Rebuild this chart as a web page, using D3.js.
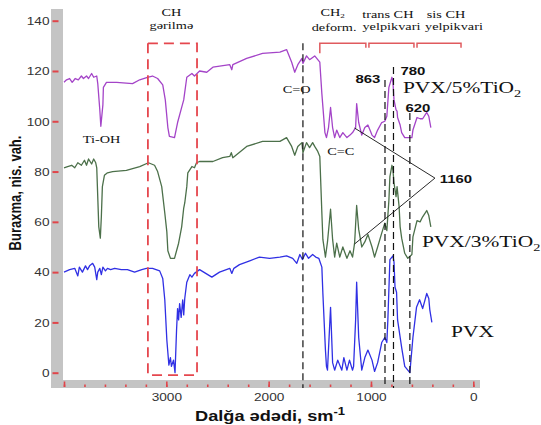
<!DOCTYPE html>
<html>
<head>
<meta charset="utf-8">
<script src="https://cdn.jsdelivr.net/npm/d3@7"></script>
<style>
  html, body { margin: 0; padding: 0; background: #fff; }
  svg { display: block; }
</style>
</head>
<body>
<script>
// ---- axis ticks ----
const yTicks = [0, 20, 40, 60, 80, 100, 120, 140];
const xMajorTicks = [4000, 3000, 2000, 1000, 0];
const xTickLabels = [3000, 2000, 1000, 0];
const xMinorTicks = d3.range(4000, -1, -200);

// ---- spectra: [wavenumber (sm^-1), transmission] ----
const pvx = [[4000,40],[3945,41],[3895,41.5],[3865,38.5],[3850,42],[3820,40],[3790,42.5],[3770,41],[3750,42.5],[3720,43.5],[3700,42],[3680,37],[3670,40],[3650,41.5],[3635,39],[3620,42],[3595,40.5],[3575,41.5],[3545,41],[3505,41.5],[3440,41],[3380,41],[3310,40],[3240,41],[3195,41.5],[3135,41.5],[3065,40.5],[3035,37.5],[3015,29],[2995,13],[2975,3],[2960,6],[2950,2.5],[2930,5],[2915,0],[2900,17],[2890,25.5],[2880,21],[2870,27.5],[2855,22],[2840,29],[2830,23],[2820,29.5],[2800,36],[2790,37],[2770,39],[2750,38],[2725,39.5],[2675,41],[2555,38],[2480,40],[2380,41.5],[2360,39.5],[2340,41.5],[2285,43],[2185,44.5],[2090,46],[1990,45.5],[1890,46],[1825,46.5],[1765,45.5],[1725,43.5],[1695,47],[1670,45],[1640,47.5],[1610,45.5],[1570,47],[1540,46],[1510,45.5],[1480,42],[1470,31.5],[1445,9],[1435,2.5],[1425,1],[1395,26],[1375,4],[1355,1],[1325,5],[1285,1],[1265,6],[1235,1],[1210,5],[1180,1],[1170,2.5],[1150,21],[1140,36],[1120,14],[1090,1],[1060,6],[1030,9],[990,5],[965,0.5],[935,4],[895,12],[865,14],[845,12],[835,21],[815,45],[785,46.5],[775,44],[765,34],[750,32],[740,21],[700,10],[670,2.5],[640,1],[620,0],[590,14],[555,26],[525,29],[495,25.5],[455,31.5],[435,29.5],[425,25],[405,20]];

const pvx3 = [[4000,81.5],[3965,82],[3925,82.5],[3895,81.5],[3865,83.5],[3830,82.5],[3800,84.5],[3780,82.5],[3760,85],[3730,83],[3710,85],[3690,83.5],[3680,81.5],[3660,58],[3645,53.5],[3635,62],[3625,74],[3605,78.5],[3575,79.5],[3525,80],[3390,80.5],[3260,82],[3175,83.5],[3115,82.5],[3085,80],[3045,74],[3015,63.5],[2995,56],[2985,48.5],[2960,45.5],[2920,45.5],[2900,48.5],[2880,51.5],[2850,58],[2830,65.5],[2820,67.5],[2800,74],[2790,79.5],[2750,82],[2725,81.5],[2705,83.5],[2675,84],[2545,84],[2450,85.5],[2380,86],[2365,87.5],[2350,85.5],[2215,90],[2060,92],[1890,92],[1825,93.5],[1775,90],[1745,86.5],[1715,90],[1675,91.5],[1665,87.5],[1630,91.5],[1600,89.5],[1570,91.5],[1550,90],[1520,88],[1500,86],[1480,63.5],[1470,53],[1445,46],[1425,52],[1395,65],[1375,53],[1355,46],[1335,51.5],[1305,46],[1275,50],[1235,45.5],[1205,48.5],[1180,46],[1160,51.5],[1140,66.5],[1120,57],[1090,50],[1060,52],[1030,55],[990,50],[965,46],[935,50],[895,55.5],[865,59.5],[845,56.5],[825,68.5],[815,78],[795,82.5],[785,80.5],[775,75.5],[755,70],[745,74],[725,66],[715,58],[700,53.5],[670,47.5],[640,45.5],[600,47],[590,54],[550,60.5],[520,60],[495,62],[455,64.5],[435,62.5],[415,58]];

const pvx5 = [[4000,115.5],[3975,116.5],[3945,117],[3920,115.5],[3890,117],[3860,116.5],[3830,118],[3810,117],[3780,118],[3760,117],[3730,119],[3710,117.5],[3680,118],[3670,115],[3650,104.5],[3640,98],[3620,106.5],[3615,113.5],[3585,115.5],[3485,115.5],[3330,115],[3260,116.5],[3185,117.5],[3135,118],[3085,117],[3035,114.5],[3010,108.5],[2985,97.5],[2970,94],[2920,93.5],[2890,99.5],[2850,105.5],[2830,108.5],[2800,117.5],[2750,119],[2725,118],[2675,120],[2605,119.5],[2545,121.5],[2380,122.5],[2360,120.5],[2350,122.5],[2215,125],[2060,127],[1890,127.5],[1825,128.5],[1775,123.5],[1745,119.5],[1715,122.5],[1675,125],[1665,123],[1630,126],[1600,124.5],[1550,126],[1520,124.5],[1500,123.5],[1480,111],[1450,95.5],[1435,93.5],[1415,97.5],[1395,105.5],[1375,97.5],[1355,93.5],[1335,96.5],[1305,93.5],[1275,95.5],[1235,93.5],[1205,94.5],[1180,95.5],[1150,97.5],[1140,107],[1120,99.5],[1090,94.5],[1060,97.5],[1030,98.5],[990,94.5],[965,93.5],[935,96.5],[895,99.5],[865,100],[845,102],[825,113.5],[795,117.5],[785,115.5],[775,108.5],[755,104.5],[745,104],[740,101.5],[715,98.5],[700,95.5],[670,93.5],[640,93.5],[600,93.5],[590,96.5],[550,101.5],[520,101],[495,101],[455,103.5],[435,102],[415,97.5]];

// ---- band annotations ----
const chStretchBand = [3180, 2700];          // CH stretching region (dashed box)
const chStretchRange = [-1, 131];
const topBands = [[1500, 1050], [1020, 580], [550, 120]]; // CH2 deform., trans CH, sis CH
const bandLevel = 131;
const markerLines = [[1665, 131], [863, 116.4], [780, 121.6], [620, 103.3]]; // [wavenumber, top]
const markerBottom = -6.1;
const peak1160 = 1160;
const peak1160Targets = [97.3, 51.2];
const peak1160Apex = [375, 77.4];

const W = 541, H = 425, SX = 1.3;
const SERIF = "'Liberation Serif', 'Times New Roman', serif";
const SANS = "'Liberation Sans', Arial, sans-serif";

const svg = d3.select("body").append("svg").attr("width", W).attr("height", H);

const x = d3.scaleLinear().domain([4000, 0]).range([64, 473.3]);
const y = d3.scaleLinear().domain([0, 140]).range([372.7, 20.7]);

// grey axis bars
svg.append("rect").attr("x", 51).attr("y", 9).attr("width", 12).attr("height", 379).attr("fill", "#c4c4c4");
svg.append("rect").attr("x", 51).attr("y", 380).attr("width", 429).attr("height", 8).attr("fill", "#c4c4c4");

// y axis
const yAxis = svg.append("g").attr("transform", "translate(58.5,0)")
  .call(d3.axisLeft(y).tickValues(yTicks).tickSize(6).tickFormat(d3.format("d")));
yAxis.select(".domain").remove();
yAxis.selectAll(".tick line").attr("stroke", "#e0454a").attr("stroke-width", 2);
yAxis.selectAll(".tick text")
  .attr("x", 0).attr("dy", "0.36em")
  .attr("transform", `translate(-9,0) scale(${SX},1)`)
  .attr("font-family", SANS).attr("font-size", 10.5).attr("fill", "#333");

// x axis: minor + major ticks on the grey bar
const xMinor = svg.append("g").attr("transform", "translate(0,384.5)")
  .call(d3.axisBottom(x).tickValues(xMinorTicks).tickSize(2.5).tickFormat(""));
xMinor.select(".domain").remove();
xMinor.selectAll(".tick line").attr("stroke", "#e0454a").attr("stroke-width", 1.6);

const xMajor = svg.append("g").attr("transform", "translate(0,381.5)")
  .call(d3.axisBottom(x).tickValues(xMajorTicks).tickSize(5.5)
    .tickFormat(d => xTickLabels.includes(d) ? d : ""));
xMajor.select(".domain").remove();
xMajor.selectAll(".tick line").attr("stroke", "#e0454a").attr("stroke-width", 1.6);
xMajor.selectAll(".tick text")
  .attr("y", 0).attr("dy", null)
  .attr("transform", `translate(0,19.5) scale(${SX},1)`)
  .attr("font-family", SANS).attr("font-size", 10.5).attr("fill", "#333");

// axis titles
svg.append("text")
  .attr("transform", `translate(20.5,193) scale(${SX},1) rotate(-90)`)
  .attr("text-anchor", "middle").attr("font-family", SANS).attr("font-weight", "bold")
  .attr("font-size", 13).attr("fill", "#111").text("Buraxma, nis. vah.");

const xTitle = svg.append("text")
  .attr("transform", `translate(270,421) scale(${SX},1)`)
  .attr("text-anchor", "middle").attr("font-family", SANS).attr("font-weight", "bold")
  .attr("font-size", 14).attr("fill", "#111");
xTitle.append("tspan").text("Dalğa ədədi, sm");
xTitle.append("tspan").attr("dy", -6).attr("font-size", 10).text("-1");

// spectra
const line = d3.line().x(d => x(d[0])).y(d => y(d[1]));
[[pvx, "#3030e4"], [pvx3, "#4c704a"], [pvx5, "#a444c8"]].forEach(([data, color]) => {
  svg.append("path").datum(data).attr("d", line)
    .attr("fill", "none").attr("stroke", color).attr("stroke-width", 1.3)
    .attr("stroke-linejoin", "round");
});

// text helper (horizontally widened glyphs)
function label(w, v, parts, opt) {
  const t = svg.append("text")
    .attr("transform", `translate(${x(w)},${y(v)}) scale(${SX},1)`)
    .attr("text-anchor", opt.anchor || "middle")
    .attr("font-family", opt.family || SERIF)
    .attr("font-weight", opt.weight || "normal")
    .attr("font-size", opt.size || 11)
    .attr("fill", opt.fill || "#111");
  parts.forEach(p => {
    if (typeof p === "string") t.append("tspan").text(p);
    else t.append("tspan").attr("dy", p.dy).attr("font-size", p.size).text(p.text);
  });
  return t;
}

// group labels
label(2950, 142, ["CH"], {});
label(2950, 136.7, ["gərilmə"], {});
label(1375, 141.8, ["CH", {text: "2", dy: 2, size: 7}], {});
label(1360, 136, ["deform."], {});
label(835, 141, ["trans CH"], {});
label(800, 136.3, ["yelpikvari"], {});
label(267, 141, ["sis CH"], {});
label(189, 136.3, ["yelpikvari"], {});
label(3633, 91.4, ["Ti-OH"], {});
label(1727, 111.3, ["C=O"], {});
label(1296, 86.6, ["C=C"], {});

// peak numbers
label(1030, 115.2, ["863"], {family: SANS, weight: "bold", size: 11.5});
label(590, 118.4, ["780"], {family: SANS, weight: "bold", size: 11.5});
label(541, 103.7, ["620"], {family: SANS, weight: "bold", size: 11.5});
label(170, 75.5, ["1160"], {family: SANS, weight: "bold", size: 11.5});

// series names
label(688, 111.3, ["PVX/5%TiO", {text: "2", dy: 4, size: 11}], {anchor: "start", size: 16.5});
label(502, 50, ["PVX/3%TiO", {text: "2", dy: 4, size: 11}], {anchor: "start", size: 16.5});
label(218, 14.2, ["PVX"], {anchor: "start", size: 16.5});

// CH stretching dashed box
svg.append("rect")
  .attr("x", x(chStretchBand[0])).attr("y", y(chStretchRange[1]))
  .attr("width", x(chStretchBand[1]) - x(chStretchBand[0]))
  .attr("height", y(chStretchRange[0]) - y(chStretchRange[1]))
  .attr("fill", "none").attr("stroke", "#e5474e").attr("stroke-width", 1.8)
  .attr("stroke-dasharray", "10,6");

// top brackets
topBands.forEach(([a, b], i) => {
  const y0 = y(bandLevel);
  svg.append("path")
    .attr("d", `M${x(a)},${y0 + (i === 0 ? 10 : 4.5)}V${y0}H${x(b)}V${y0 + 4.5}`)
    .attr("fill", "none").attr("stroke", "#e05a5e").attr("stroke-width", 1.5);
});

// dashed marker lines
markerLines.forEach(([w, top]) => {
  svg.append("line")
    .attr("x1", x(w)).attr("x2", x(w)).attr("y1", y(top)).attr("y2", y(markerBottom))
    .attr("stroke", "#111").attr("stroke-width", 1.2).attr("stroke-dasharray", "7,4");
});

// 1160 pointer lines
peak1160Targets.forEach(v => {
  svg.append("line")
    .attr("x1", x(peak1160)).attr("y1", y(v))
    .attr("x2", x(peak1160Apex[0])).attr("y2", y(peak1160Apex[1]))
    .attr("stroke", "#111").attr("stroke-width", 0.9);
});
</script>
</body>
</html>
